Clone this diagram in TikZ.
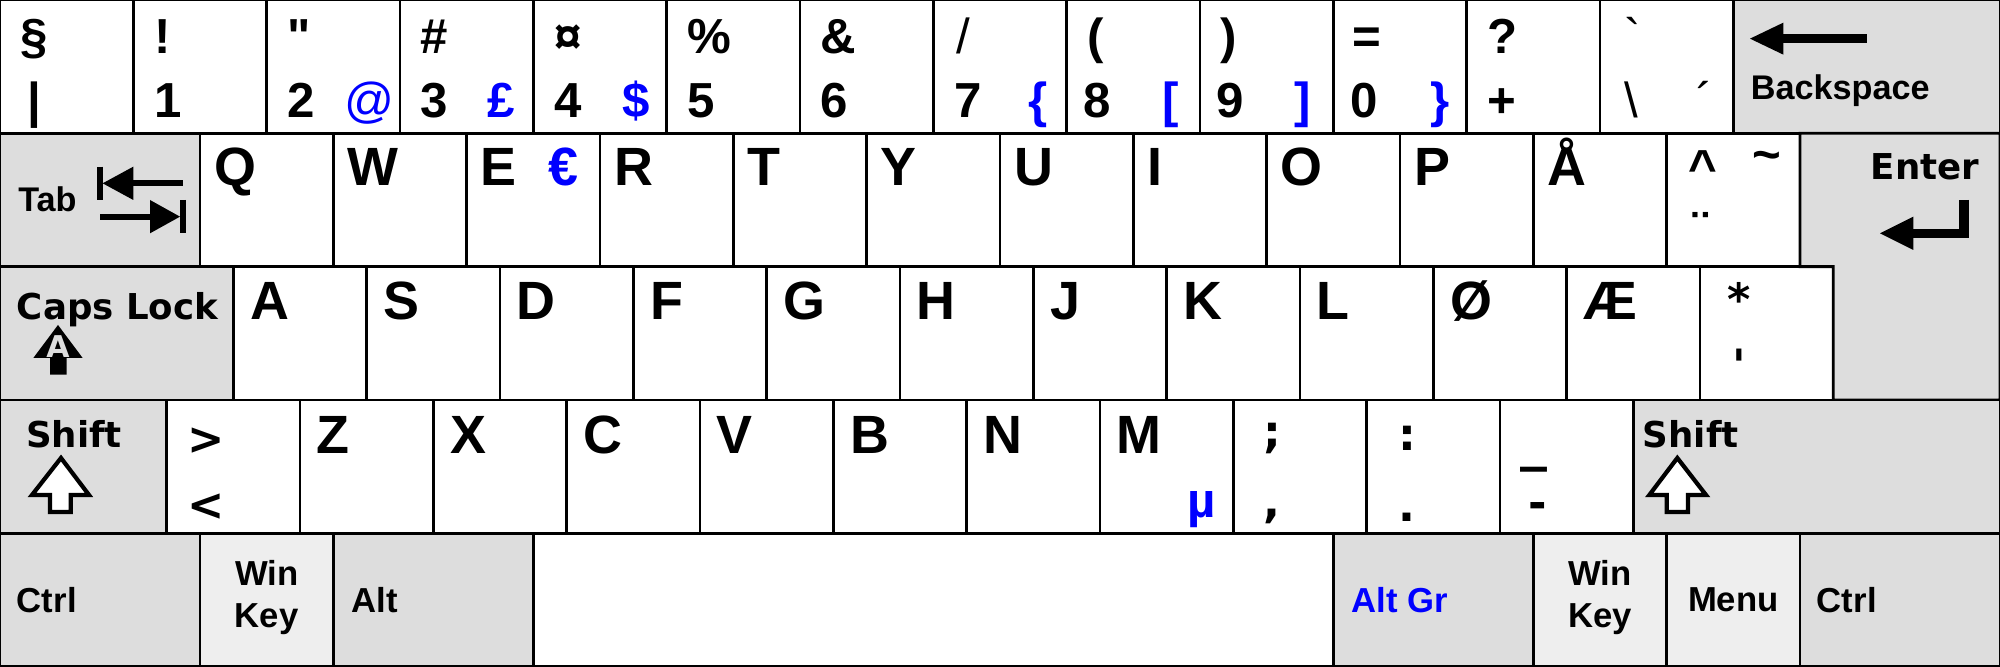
\documentclass[tikz,border=0pt]{standalone}
\usepackage{fontspec}
\newfontfamily\arialike{Liberation Sans}
\newfontfamily\dvsans{DejaVu Sans}
\usetikzlibrary{positioning}

\definecolor{modgrey}{HTML}{DDDDDD}
\definecolor{wingrey}{HTML}{EEEEEE}

\begin{document}
\begin{tikzpicture}[
  key/.style={draw,line width=0.6pt,fill=white,minimum width=1cm,minimum height=1cm,inner sep=0pt,outer sep=0pt,anchor=north west},
  modkey/.style={key,fill=modgrey},
  winkey/.style={key,fill=wingrey},
  letter/.style={anchor=base west,inner sep=0pt,font=\arialike\fontsize{11.5}{13}\selectfont\bfseries},
  hi/.style={anchor=base west,inner sep=0pt,font=\arialike\fontsize{10.5}{12}\selectfont\bfseries},
  hithin/.style={hi,font=\arialike\fontsize{10.5}{12}\selectfont},
  third/.style={hi,text=blue},
  punct/.style={anchor=north west,inner sep=0pt,font=\dvsans\fontsize{9.5}{11}\selectfont\bfseries},
  accent/.style={anchor=north west,inner sep=0pt,font=\arialike\fontsize{10.5}{12}\selectfont\bfseries},
  modtxt/.style={anchor=west,inner sep=0pt,font=\arialike\fontsize{7.4}{9}\selectfont\bfseries},
  smalltxt/.style={anchor=base west,inner sep=0pt,font=\arialike\fontsize{7.3}{9}\selectfont\bfseries},
  bigtxt/.style={anchor=base west,inner sep=0pt,font=\dvsans\fontsize{7.6}{9}\selectfont\bfseries},
]

\useasboundingbox (0,0) rectangle (15,5);

% number row
\node[key]   (n0) at (0,5) {};
\foreach \i [remember=\i as \j (initially 0)] in {1,...,12}
  \node[key] (n\i) [right=0pt of n\j] {};
\node[modkey,minimum width=2cm] (bksp) [right=0pt of n12] {};

\node[hi]     (u0)  at ([shift={(0.15,-0.4)}]n0.north west)   {§};
\node[hi]     (d0)  at ([shift={(0.2,-0.885)}]n0.north west)  {|};
\node[hi]     (u1)  at ([shift={(0.15,-0.4)}]n1.north west)   {!};
\node[hi]     (d1)  at ([shift={(0.15,-0.885)}]n1.north west) {1};
\node[hi]     (u2)  at ([shift={(0.15,-0.4)}]n2.north west)   {"};
\node[hi]     (d2)  at ([shift={(0.15,-0.885)}]n2.north west) {2};
\node[third,font=\arialike\fontsize{10.5}{12}\selectfont] (g2) at ([shift={(0.575,-0.885)}]n2.north west) {@};
\node[hi]     (u3)  at ([shift={(0.15,-0.4)}]n3.north west)   {\#};
\node[hi]     (d3)  at ([shift={(0.15,-0.885)}]n3.north west) {3};
\node[third]  (g3)  at ([shift={(0.65,-0.885)}]n3.north west) {£};
\node[hi]     (u4)  at ([shift={(0.15,-0.4)}]n4.north west)   {¤};
\node[hi]     (d4)  at ([shift={(0.15,-0.885)}]n4.north west) {4};
\node[third]  (g4)  at ([shift={(0.66,-0.885)}]n4.north west) {\$};
\node[hi]     (u5)  at ([shift={(0.15,-0.4)}]n5.north west)   {\%};
\node[hi]     (d5)  at ([shift={(0.15,-0.885)}]n5.north west) {5};
\node[hi]     (u6)  at ([shift={(0.15,-0.4)}]n6.north west)   {\&};
\node[hi]     (d6)  at ([shift={(0.15,-0.885)}]n6.north west) {6};
\node[hithin] (u7)  at ([shift={(0.17,-0.4)}]n7.north west)   {/};
\node[hi]     (d7)  at ([shift={(0.15,-0.885)}]n7.north west) {7};
\node[third]  (g7)  at ([shift={(0.71,-0.885)}]n7.north west) {\{};
\node[hi]     (u8)  at ([shift={(0.15,-0.4)}]n8.north west)   {(};
\node[hi]     (d8)  at ([shift={(0.12,-0.885)}]n8.north west) {8};
\node[third]  (g8)  at ([shift={(0.71,-0.885)}]n8.north west) {[};
\node[hi]     (u9)  at ([shift={(0.15,-0.4)}]n9.north west)   {)};
\node[hi]     (d9)  at ([shift={(0.12,-0.885)}]n9.north west) {9};
\node[third]  (g9)  at ([shift={(0.70,-0.885)}]n9.north west) {]};
\node[hi]     (u10) at ([shift={(0.14,-0.4)}]n10.north west)  {=};
\node[hi]     (d10) at ([shift={(0.12,-0.885)}]n10.north west) {0};
\node[third]  (g10) at ([shift={(0.72,-0.885)}]n10.north west) {\}};
\node[hi]     (u11) at ([shift={(0.15,-0.4)}]n11.north west)  {?};
\node[hi]     (d11) at ([shift={(0.15,-0.885)}]n11.north west) {+};
\node[hithin] (u12) at ([shift={(0.18,-0.4)}]n12.north west)  {`};
\node[hithin] (d12) at ([shift={(0.18,-0.885)}]n12.north west) {\textbackslash};
\node[hithin] (g12) at ([shift={(0.72,-0.885)}]n12.north west) {´};

\node[smalltxt] (bkspt) at ([shift={(0.125,-0.75)}]bksp.north west) {Backspace};
\fill (13.125,4.71) -- (13.375,4.83) -- (13.375,4.59) -- cycle;
\draw[line width=2pt] (13.36,4.71) -- (14,4.71);

% top letter row
\node[modkey,minimum width=1.5cm,alias=q0] (tab) at (0,4) {};
\foreach \ch [count=\i,remember=\i as \j (initially 0)] in {Q,W,E,R,T,Y,U,I,O,P,Å} {
  \node[key] (q\i) [right=0pt of q\j] {};
  \node[letter] (lq\i) at ([shift={(0.1,-0.39)}]q\i.north west) {\ch};
}
\node[key] (q12) [right=0pt of q11] {};
\node[letter,text=blue] (euro) at ([shift={(0.61,-0.39)}]q3.north west) {€};
\node[accent] (circ)  at ([shift={(0.16,-0.125)}]q12.north west) {\textasciicircum};
\node[accent] (tilde) at ([shift={(0.64,-0.125)}]q12.north west) {\textasciitilde};
\node[accent] (diaer) at ([shift={(0.19,-0.59)}]q12.north west)  {¨};

\node[smalltxt] (tabt) at ([shift={(0.13,-0.59)}]tab.north west) {Tab};
\draw[line width=1.3pt] (0.75,3.75) -- (0.75,3.5);
\fill (0.77,3.625) -- (1,3.75) -- (1,3.5) -- cycle;
\draw[line width=1.3pt] (0.98,3.625) -- (1.375,3.625);
\draw[line width=1.3pt] (0.75,3.375) -- (1.14,3.375);
\fill (1.35,3.375) -- (1.125,3.5) -- (1.125,3.25) -- cycle;
\draw[line width=1.3pt] (1.375,3.5) -- (1.375,3.25);

% home row
\node[modkey,minimum width=1.75cm,alias=a0] (caps) at (0,3) {};
\foreach \ch [count=\i,remember=\i as \j (initially 0)] in {A,S,D,F,G,H,J,K,L,Ø,Æ} {
  \node[key] (a\i) [right=0pt of a\j] {};
  \node[letter] (la\i) at ([shift={(0.12,-0.4)}]a\i.north west) {\ch};
}
\node[key] (a12) [right=0pt of a11] {};
\node[punct] (star) at ([shift={(0.2,-0.115)}]a12.north west) {*};
\node[punct] (apos) at ([shift={(0.24,-0.61)}]a12.north west) {'};

\draw[line width=0.6pt,fill=modgrey] (q12.north east) -- (15,4) |- (a12.south east) -- (a12.north east) -- (q12.south east) -- cycle;
\node[bigtxt] (entert) at (14.025,3.65) {Enter};
\draw[line width=2pt] (14.73,3.5) |- (14.33,3.25);
\fill (14.1,3.25) -- (14.35,3.375) -- (14.35,3.125) -- cycle;

\node[bigtxt] (capst) at ([shift={(0.12,-0.393)}]caps.north west) {Caps Lock};
\fill (0.435,2.5625) -- (0.62,2.315) -- (0.5,2.315) -- (0.5,2.19) -- (0.375,2.19) -- (0.375,2.315) -- (0.25,2.315) -- cycle;
\node[anchor=base,inner sep=0pt,text=modgrey,font=\dvsans\fontsize{6.4}{7}\selectfont\bfseries] (capsa) at (0.435,2.32) {A};

% bottom letter row
\node[modkey,minimum width=1.25cm] (lshift) at (0,2) {};
\node[key] (z1) [right=0pt of lshift] {};
\foreach \ch [count=\i from 2,remember=\i as \j (initially 1)] in {Z,X,C,V,B,N,M} {
  \node[key] (z\i) [right=0pt of z\j] {};
  \node[letter] (lz\i) at ([shift={(0.12,-0.4)}]z\i.north west) {\ch};
}
\node[key] (z9)  [right=0pt of z8]  {};
\node[key] (z10) [right=0pt of z9]  {};
\node[key] (z11) [right=0pt of z10] {};
\node[modkey,minimum width=2.75cm] (rshift) [right=0pt of z11] {};

\node[punct] (gt)    at ([shift={(0.15,-0.2)}]z1.north west)   {>};
\node[punct] (lt)    at ([shift={(0.15,-0.7)}]z1.north west)   {<};
\node[third] (mu)    at ([shift={(0.65,-0.885)}]z8.north west) {µ};
\node[punct] (semi)  at ([shift={(0.22,-0.17)}]z9.north west)  {;};
\node[punct] (comma) at ([shift={(0.22,-0.81)}]z9.north west)  {,};
\node[punct] (colon) at ([shift={(0.23,-0.19)}]z10.north west) {:};
\node[punct] (dot)   at ([shift={(0.23,-0.84)}]z10.north west) {.};
\node[punct,font=\dvsans\fontsize{11.5}{13}\selectfont\bfseries] (uscr) at ([shift={(0.15,-0.44)}]z11.north west) {\_};
\node[punct] (minus) at ([shift={(0.21,-0.765)}]z11.north west) {-};

\node[bigtxt] (lshiftt) at ([shift={(0.19,-0.36)}]lshift.north west) {Shift};
\draw[line width=0.9pt,fill=white] (0.4575,1.565) -- (0.6675,1.2875) -- (0.53,1.2875) -- (0.53,1.16) -- (0.375,1.16) -- (0.375,1.2875) -- (0.24,1.2875) -- cycle;
\node[bigtxt] (rshiftt) at ([shift={(0.065,-0.36)}]rshift.north west) {Shift};
\draw[line width=0.9pt,fill=white] (12.58,1.565) -- (12.795,1.2875) -- (12.66,1.2875) -- (12.66,1.16) -- (12.5,1.16) -- (12.5,1.2875) -- (12.37,1.2875) -- cycle;

% space row
\node[modkey,minimum width=1.5cm] (lctrl) at (0,1) {};
\node[winkey] (lwin) [right=0pt of lctrl] {};
\node[modkey,minimum width=1.5cm] (lalt) [right=0pt of lwin] {};
\node[key,minimum width=6cm] (space) [right=0pt of lalt] {};
\node[modkey,minimum width=1.5cm] (ralt) [right=0pt of space] {};
\node[winkey] (rwin) [right=0pt of ralt] {};
\node[winkey] (menu) [right=0pt of rwin] {};
\node[modkey,minimum width=1.5cm] (rctrl) [right=0pt of menu] {};

\node[modtxt] (lctrlt) at ([xshift=0.12cm]lctrl.west) {Ctrl};
\node[modtxt,anchor=center,align=center] (lwint) at ([yshift=0.02cm]lwin.center) {Win\\Key};
\node[modtxt] (laltt) at ([xshift=0.13cm]lalt.west) {Alt};
\node[modtxt,text=blue] (raltt) at ([xshift=0.13cm]ralt.west) {Alt Gr};
\node[modtxt,anchor=center,align=center] (rwint) at ([yshift=0.02cm]rwin.center) {Win\\Key};
\node[modtxt,anchor=center] (menut) at (menu.center) {Menu};
\node[modtxt] (rctrlt) at ([xshift=0.12cm]rctrl.west) {Ctrl};

\end{tikzpicture}
\end{document}
